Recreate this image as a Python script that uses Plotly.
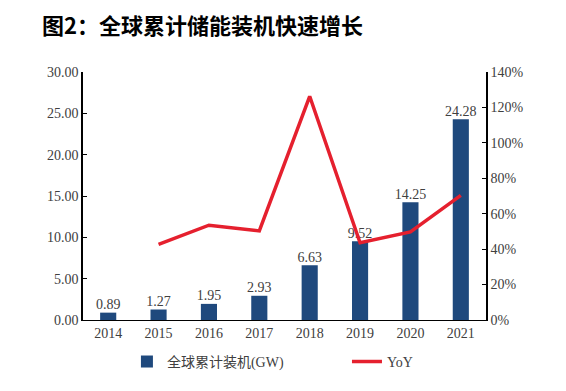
import plotly.graph_objects as go

years = ["2014", "2015", "2016", "2017", "2018", "2019", "2020", "2021"]
capacity_gw = [0.89, 1.27, 1.95, 2.93, 6.63, 9.52, 14.25, 24.28]
yoy_years = ["2015", "2016", "2017", "2018", "2019", "2020", "2021"]
yoy_pct = [42.7, 53.5, 50.3, 126.3, 43.6, 49.7, 70.4]

left_ticks = [0, 5, 10, 15, 20, 25, 30]
right_ticks = [0, 20, 40, 60, 80, 100, 120, 140]

serif = "Liberation Serif, Times New Roman, serif"
txt = "#404040"
legend_font = dict(family="Liberation Serif, Noto Sans CJK SC, serif", size=14, color=txt)

fig = go.Figure()
fig.add_trace(go.Bar(
    x=years, y=capacity_gw, name="全球累计装机(GW)",
    marker=dict(color="#1F497D", line=dict(width=0)),
    width=0.32, legend="legend",
))
fig.add_trace(go.Scatter(
    x=years, y=capacity_gw, mode="text", showlegend=False,
    text=[f"{v:.2f}" for v in capacity_gw], textposition="top center",
    textfont=dict(family=serif, size=14, color=txt), cliponaxis=False,
    hoverinfo="skip",
))
fig.add_trace(go.Scatter(
    x=yoy_years, y=yoy_pct, name="YoY", yaxis="y2", mode="lines",
    line=dict(color="#E5202E", width=3.5), legend="legend2",
))

fig.update_layout(
    width=558, height=383,
    margin=dict(l=75, r=80, t=64, b=71, autoexpand=False),
    paper_bgcolor="white", plot_bgcolor="white",
    showlegend=True,
    legend=dict(orientation="h", x=0.109, xanchor="left", y=-0.169, yanchor="middle",
                font=legend_font, bgcolor="rgba(0,0,0,0)"),
    legend2=dict(orientation="h", x=0.655, xanchor="left", y=-0.169, yanchor="middle",
                 font=legend_font, bgcolor="rgba(0,0,0,0)"),
    xaxis=dict(type="category", showline=True, linecolor="black", linewidth=1,
               ticks="", showgrid=False,
               tickfont=dict(family=serif, size=14, color=txt)),
    yaxis=dict(range=[0, 30], tickvals=left_ticks,
               ticktext=[f"{v:.2f}" for v in left_ticks],
               showline=True, linecolor="black", linewidth=1.5,
               ticks="inside", ticklen=4, tickcolor="black",
               showgrid=False, zeroline=False,
               tickfont=dict(family=serif, size=14, color=txt)),
    yaxis2=dict(range=[0, 140], tickvals=right_ticks,
                ticktext=[f"{v}%" for v in right_ticks],
                overlaying="y", side="right",
                showline=True, linecolor="black", linewidth=1.5,
                ticks="inside", ticklen=4, tickcolor="black",
                showgrid=False, zeroline=False,
                tickfont=dict(family=serif, size=14, color=txt)),
    annotations=[dict(text="<b>图2：全球累计储能装机快速增长</b>", xref="paper", yref="paper",
                      x=-0.107, y=1.194, xanchor="left", yanchor="middle", showarrow=False,
                      font=dict(family="Noto Sans CJK SC", size=22, color="black"))],
)

fig.write_html("out.html")
